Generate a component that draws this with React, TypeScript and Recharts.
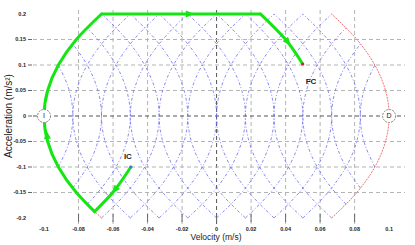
import {
  ComposedChart,
  Line,
  Scatter,
  XAxis,
  YAxis,
  ReferenceLine,
  ReferenceDot,
} from "recharts";

const velocityTicks = [-0.1, -0.08, -0.06, -0.04, -0.02, 0, 0.02, 0.04, 0.06, 0.08, 0.1];
const accelTicks = [-0.2, -0.15, -0.1, -0.05, 0, 0.05, 0.1, 0.15, 0.2];

// acceleration levels at which the full arcs were read
const accelLevels = [-0.2, -0.15, -0.1, -0.05, 0, 0.05, 0.1, 0.15, 0.2];

// velocity of each full-height blue arc at every accel level
const blueArcsFull: number[][] = [
  [-0.05, -0.0645, -0.075, -0.0812, -0.0833, -0.0812, -0.075, -0.0645, -0.05],
  [-0.0333, -0.0479, -0.0583, -0.0646, -0.0667, -0.0646, -0.0583, -0.0479, -0.0333],
  [-0.0167, -0.0312, -0.0417, -0.0479, -0.05, -0.0479, -0.0417, -0.0312, -0.0167],
  [0, -0.0146, -0.025, -0.0312, -0.0333, -0.0312, -0.025, -0.0146, 0],
  [0.0167, 0.0021, -0.0083, -0.0146, -0.0167, -0.0146, -0.0083, 0.0021, 0.0167],
  [0.0333, 0.0188, 0.0083, 0.0021, 0, 0.0021, 0.0083, 0.0188, 0.0333],
  [0.05, 0.0354, 0.025, 0.0188, 0.0167, 0.0188, 0.025, 0.0354, 0.05],
  [0.0667, 0.0521, 0.0417, 0.0354, 0.0333, 0.0354, 0.0417, 0.0521, 0.0667],
  [0.05, 0.0645, 0.075, 0.0812, 0.0833, 0.0812, 0.075, 0.0645, 0.05],
  [0.0333, 0.0479, 0.0583, 0.0646, 0.0667, 0.0646, 0.0583, 0.0479, 0.0333],
  [0.0167, 0.0312, 0.0417, 0.0479, 0.05, 0.0479, 0.0417, 0.0312, 0.0167],
  [0, 0.0146, 0.025, 0.0312, 0.0333, 0.0312, 0.025, 0.0146, 0],
  [-0.0167, -0.0021, 0.0083, 0.0146, 0.0167, 0.0146, 0.0083, -0.0021, -0.0167],
  [-0.0333, -0.0188, -0.0083, -0.0021, 0, -0.0021, -0.0083, -0.0188, -0.0333],
  [-0.05, -0.0354, -0.025, -0.0188, -0.0167, -0.0188, -0.025, -0.0354, -0.05],
  [-0.0667, -0.0521, -0.0417, -0.0354, -0.0333, -0.0354, -0.0417, -0.0521, -0.0667],
];

// arcs cut short by the red boundaries: [velocity, acceleration]
const blueArcsClipped: [number, number][][] = [
  [[0.075, -0.173], [0.0688, -0.15], [0.0583, -0.1], [0.0521, -0.05], [0.05, 0], [0.0521, 0.05], [0.0583, 0.1], [0.0688, 0.15], [0.075, 0.173]],
  [[0.0833, -0.141], [0.075, -0.1], [0.0688, -0.05], [0.0667, 0], [0.0688, 0.05], [0.075, 0.1], [0.0833, 0.141]],
  [[0.0917, -0.1], [0.0854, -0.05], [0.0833, 0], [0.0854, 0.05], [0.0917, 0.1]],
  [[-0.075, -0.173], [-0.0688, -0.15], [-0.0583, -0.1], [-0.0521, -0.05], [-0.05, 0], [-0.0521, 0.05], [-0.0583, 0.1], [-0.0688, 0.15], [-0.075, 0.173]],
  [[-0.0833, -0.141], [-0.075, -0.1], [-0.0688, -0.05], [-0.0667, 0], [-0.0688, 0.05], [-0.075, 0.1], [-0.0833, 0.141]],
  [[-0.0917, -0.1], [-0.0854, -0.05], [-0.0833, 0], [-0.0854, 0.05], [-0.0917, 0.1]],
];

// red boundary arcs through I and D
const boundaryArcs: number[][] = [
  [-0.0667, -0.0813, -0.0917, -0.0979, -0.1, -0.0979, -0.0917, -0.0813, -0.0667],
  [0.0667, 0.0813, 0.0917, 0.0979, 0.1, 0.0979, 0.0917, 0.0813, 0.0667],
];

// green trajectory pieces
const pathFromIC: [number, number][] = [[-0.0707, -0.1875], [-0.0602, -0.15], [-0.0497, -0.1]];
const pathLeftArc: [number, number][] = [
  [-0.0707, -0.1875], [-0.0813, -0.15], [-0.0917, -0.1], [-0.0979, -0.05], [-0.1, 0],
  [-0.0979, 0.05], [-0.0917, 0.1], [-0.0813, 0.15], [-0.0667, 0.2],
];
const pathTop: [number, number][] = [[-0.0667, 0.2], [0.0255, 0.2]];
const pathToFC: [number, number][] = [[0.0499, 0.102], [0.04, 0.15], [0.0255, 0.2]];

// arrow heads on the trajectory: velocity, acceleration, heading (deg)
const arrowV = [-0.0155, 0.0413, -0.0983, -0.059];
const arrowA = [0.2, 0.145, -0.037, -0.145];
const arrowAngle = [0, 51, -97, 129];

const GREEN = "#14e614";
const BLUE = "#6b6bf2";
const RED = "#f07474";
const FONT = "Liberation Sans, Arial, sans-serif";

const toPts = (pairs: [number, number][]) => pairs.map(([v, a]) => ({ v, a }));
const fromLevels = (vs: number[]) => vs.map((v, i) => ({ v, a: accelLevels[i] }));
const isEdge = (t: number, lim: number) => Math.abs(Math.abs(t) - lim) < 1e-9;

function BottomTick(props: any) {
  const { x, y, payload } = props;
  const t = payload.value;
  return (
    <g>
      {!isEdge(t, 0.1) && <line x1={x} x2={x} y1={y - 2} y2={y - 10} stroke="#666" />}
      <text x={x} y={y + 7} textAnchor="middle" fontSize={5.5} fontWeight="bold" fill="#222" fontFamily={FONT}>
        {String(t)}
      </text>
    </g>
  );
}

function TopTick(props: any) {
  const { x, y, payload } = props;
  if (isEdge(payload.value, 0.1)) return <g />;
  return <line x1={x} x2={x} y1={y} y2={y + 4} stroke="#666" />;
}

function LeftTick(props: any) {
  const { x, y, payload } = props;
  const t = payload.value;
  return (
    <g>
      {!isEdge(t, 0.2) && <line x1={x - 5} x2={x - 1} y1={y} y2={y} stroke="#666" />}
      <text x={x - 7} y={y} dy="0.35em" textAnchor="end" fontSize={5.5} fontWeight="bold" fill="#222" fontFamily={FONT}>
        {String(t)}
      </text>
    </g>
  );
}

function RightTick(props: any) {
  const { x, y, payload } = props;
  if (isEdge(payload.value, 0.2)) return <g />;
  return <line x1={x - 5} x2={x} y1={y} y2={y} stroke="#666" />;
}

function Arrow(props: any) {
  const { cx, cy, payload } = props;
  return (
    <polygon
      points="4.5,0 -4,-3.5 -4,3.5"
      transform={`translate(${cx},${cy}) rotate(${payload.angle})`}
      fill={GREEN}
    />
  );
}

function Endpoint(props: any) {
  const { cx, cy, letter } = props;
  return (
    <g>
      <circle cx={cx} cy={cy} r={6.5} fill="#fff" stroke="#888" strokeDasharray="2 1" />
      <text x={cx} y={cy} dy="0.35em" textAnchor="middle" fontSize={7} fill="#222" fontFamily={FONT}>
        {letter}
      </text>
    </g>
  );
}

function Tag(props: any) {
  const { cx, cy, text } = props;
  return (
    <text x={cx} y={cy} dy="0.35em" textAnchor="middle" fontSize={8} fontWeight={600} fill="#222" fontFamily={FONT}>
      {text}
    </text>
  );
}

export default function App() {
  const arrows = arrowV.map((v, i) => ({ v, a: arrowA[i], angle: arrowAngle[i] }));
  const xDomain = [-0.1064, 0.1092];
  const yDomain = [-0.2118, 0.2118];
  const xGrid = velocityTicks.filter((t) => !isEdge(t, 0.1));
  const yGrid = accelTicks.filter((t) => !isEdge(t, 0.2));

  return (
    <div style={{ position: "absolute", left: 0, top: 0, background: "#fff" }}>
      <ComposedChart width={415} height={245} margin={{ top: 8, right: 10, bottom: 0, left: 0 }}>
        <XAxis
          dataKey="v"
          type="number"
          domain={xDomain}
          ticks={velocityTicks}
          allowDataOverflow
          axisLine={false}
          tickSize={0}
          tickMargin={0}
          tick={<BottomTick />}
          height={21}
          interval={0}
          label={() => (
            <text x={216} y={240} textAnchor="middle" fontSize={8.5} fill="#222" fontFamily={FONT}>
              Velocity (m/s)
            </text>
          )}
        />
        <XAxis
          xAxisId="top"
          orientation="top"
          dataKey="v"
          type="number"
          domain={xDomain}
          ticks={velocityTicks}
          allowDataOverflow
          axisLine={false}
          tickSize={0}
          tickMargin={0}
          tick={<TopTick />}
          height={0}
          interval={0}
        />
        <YAxis
          dataKey="a"
          type="number"
          domain={yDomain}
          ticks={accelTicks}
          allowDataOverflow
          axisLine={false}
          tickSize={0}
          tickMargin={0}
          tick={<LeftTick />}
          width={33}
          interval={0}
          label={() => (
            <text
              x={8}
              y={116}
              transform="rotate(-90 8 116)"
              dy="0.35em"
              textAnchor="middle"
              fontSize={10}
              fill="#222"
              fontFamily={FONT}
            >
              Acceleration (m/s²)
            </text>
          )}
        />
        <YAxis
          yAxisId="right"
          orientation="right"
          dataKey="a"
          type="number"
          domain={yDomain}
          ticks={accelTicks}
          allowDataOverflow
          axisLine={{ stroke: "#555" }}
          tickSize={0}
          tickMargin={0}
          tick={<RightTick />}
          width={0}
          interval={0}
        />

        {xGrid.map((t) => (
          <ReferenceLine
            key={"gx" + t}
            x={t}
            stroke={t === 0 ? "#555" : "#b4b4b4"}
            strokeDasharray="4 3"
          />
        ))}
        {yGrid.map((t) => (
          <ReferenceLine
            key={"gy" + t}
            y={t}
            stroke={t === 0 ? "#555" : "#b4b4b4"}
            strokeDasharray="4 3"
          />
        ))}

        {blueArcsFull.map((vs, i) => (
          <Line
            key={"bf" + i}
            data={fromLevels(vs)}
            dataKey="a"
            type="monotoneY"
            stroke={BLUE}
            strokeWidth={0.8}
            strokeDasharray="3 2 1 2"
            dot={false}
            activeDot={false}
            isAnimationActive={false}
          />
        ))}
        {blueArcsClipped.map((pairs, i) => (
          <Line
            key={"bc" + i}
            data={toPts(pairs)}
            dataKey="a"
            type="monotoneY"
            stroke={BLUE}
            strokeWidth={0.8}
            strokeDasharray="3 2 1 2"
            dot={false}
            activeDot={false}
            isAnimationActive={false}
          />
        ))}
        {boundaryArcs.map((vs, i) => (
          <Line
            key={"r" + i}
            data={fromLevels(vs)}
            dataKey="a"
            type="monotoneY"
            stroke={RED}
            strokeWidth={1}
            strokeDasharray="2 1"
            dot={false}
            activeDot={false}
            isAnimationActive={false}
          />
        ))}

        {[pathFromIC, pathLeftArc, pathTop, pathToFC].map((pairs, i) => (
          <Line
            key={"g" + i}
            data={toPts(pairs)}
            dataKey="a"
            type={i === 2 ? "linear" : "monotoneY"}
            stroke={GREEN}
            strokeWidth={3}
            strokeLinecap="round"
            dot={false}
            activeDot={false}
            isAnimationActive={false}
          />
        ))}
        <Scatter data={arrows} dataKey="a" shape={<Arrow />} isAnimationActive={false} />

        <ReferenceDot x={-0.0497} y={-0.1} r={1.6} fill="#3a7bd5" stroke="none" />
        <ReferenceDot x={0.0499} y={0.102} r={1.6} fill="#e02020" stroke="none" />
        <ReferenceDot x={-0.1} y={0} shape={(p: any) => <Endpoint {...p} letter="I" />} />
        <ReferenceDot x={0.1} y={0} shape={(p: any) => <Endpoint {...p} letter="D" />} />
        <ReferenceDot x={-0.0514} y={-0.078} shape={(p: any) => <Tag {...p} text="IC" />} />
        <ReferenceDot x={0.0547} y={0.0686} shape={(p: any) => <Tag {...p} text="FC" />} />
      </ComposedChart>
    </div>
  );
}
